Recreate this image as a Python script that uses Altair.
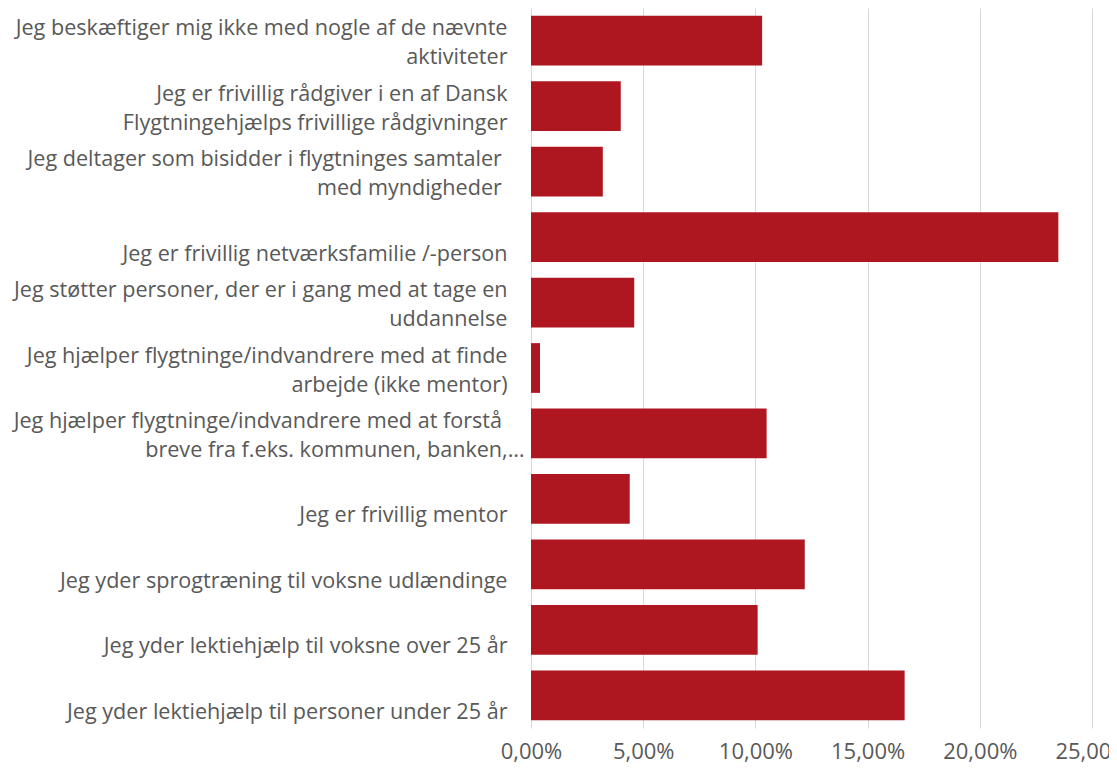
import altair as alt
import pandas as pd

SP = "\u00a0"
END = "\u200b"

line1 = [
    "Jeg beskæftiger mig ikke med nogle af de nævnte",
    "Jeg er frivillig rådgiver i en af Dansk",
    "Jeg deltager som bisidder i flygtninges samtaler" + SP + END,
    "",
    "Jeg støtter personer, der er i gang med at tage en",
    "Jeg hjælper flygtninge/indvandrere med at finde",
    "Jeg hjælper flygtninge/indvandrere med at forstå" + SP * 4 + END,
    "",
    "",
    "",
    "",
]
line2 = [
    "aktiviteter",
    "Flygtningehjælps frivillige rådgivninger",
    "med myndigheder" + SP + END,
    "Jeg er frivillig netværksfamilie /-person",
    "uddannelse",
    "arbejde (ikke mentor)",
    "breve fra f.eks. kommunen, banken,…",
    "Jeg er frivillig mentor",
    "Jeg yder sprogtræning til voksne udlændinge",
    "Jeg yder lektiehjælp til voksne over 25 år",
    "Jeg yder lektiehjælp til personer under 25 år",
]
shares = [0.103, 0.040, 0.032, 0.235, 0.046, 0.004, 0.105, 0.044, 0.122, 0.101, 0.1665]
tick_values = [0, 0.05, 0.10, 0.15, 0.20, 0.25]

labels = [a + "\n" + b for a, b in zip(line1, line2)]
df = pd.DataFrame({"label": labels, "share": shares})

FONT = "Open Sans"
GRAY = "#595959"

chart = (
    alt.Chart(df)
    .mark_bar(color="#AF1720")
    .encode(
        y=alt.Y(
            "label:N",
            sort=labels,
            scale=alt.Scale(paddingInner=0.24, paddingOuter=0.12),
            axis=alt.Axis(
                title=None,
                domain=False,
                ticks=False,
                grid=False,
                labelExpr="split(datum.label, '\\n')",
                labelFont=FONT,
                labelFontSize=21.6,
                labelColor=GRAY,
                labelLineHeight=29,
                labelPadding={
                    "condition": {"test": "indexof(datum.value, 'banken') >= 0", "value": 7},
                    "value": 24,
                },
                labelOffset=-11.5,
                labelLimit=700,
            ),
        ),
        x=alt.X(
            "share:Q",
            scale=alt.Scale(domain=[0, 0.25], nice=False),
            axis=alt.Axis(
                title=None,
                values=tick_values,
                labelExpr="replace(format(datum.value, '.2%'), '.', ',')",
                domain=False,
                ticks=False,
                tickSize=0,
                grid=True,
                gridColor="#d9d9d9",
                gridWidth=1,
                labelFont=FONT,
                labelFontSize=22,
                labelColor=GRAY,
                labelPadding=13,
                labelFlush=False,
            ),
        ),
    )
    .properties(
        width=561,
        height=720,
        autosize=alt.AutoSizeParams(type="none"),
        padding={"left": 523, "top": 0, "right": 17, "bottom": 36},
        background="white",
    )
    .configure_view(stroke=None)
)

chart.save("out.html", embed_options={"renderer": "svg", "actions": False})
